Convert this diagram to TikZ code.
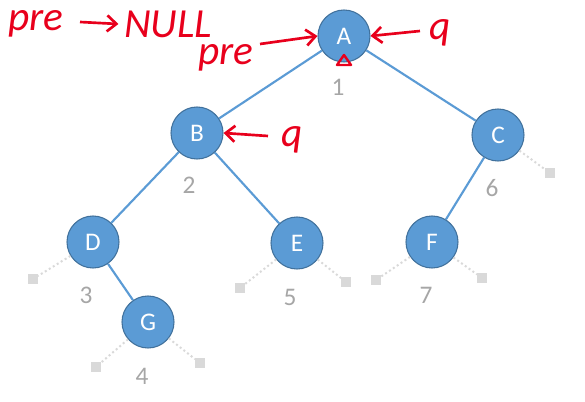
\documentclass[tikz,border=0pt]{standalone}
\usepackage{fontspec}
\setmainfont{Carlito}
\usetikzlibrary{arrows.meta}
\definecolor{nodeblue}{HTML}{5B9BD5}
\definecolor{nodeedge}{HTML}{41719C}
\definecolor{numgray}{HTML}{A6A6A6}
\definecolor{nullgray}{HTML}{D9D9D9}
\definecolor{ink}{HTML}{E8001C}
\tikzset{
  tnode/.style={circle, fill=nodeblue, draw=nodeedge, line width=0.8pt, minimum size=39pt, inner sep=0pt, text=white, font=\fontsize{19}{19}\selectfont},
  num/.style={text=numgray, font=\fontsize{19}{19}\selectfont, inner sep=0pt},
  nullsq/.style={rectangle, fill=nullgray, minimum size=7pt, inner sep=0pt},
  tedge/.style={draw=nodeblue, line width=1.6pt},
  nedge/.style={draw=nullgray, line width=1.5pt, dotted},
  hand/.style={text=ink, font=\itshape\fontsize{31}{31}\selectfont, inner sep=0pt},
  handarrow/.style={draw=ink, line width=2pt, -{Straight Barb[length=7pt,width=12pt]}}
}
\begin{document}
\begin{tikzpicture}[x=0.75pt,y=-0.75pt]
\useasboundingbox (0,0) rectangle (585,402);
% tree nodes
\node[tnode] (A) at (344,36) {A};
\node[tnode] (B) at (197,133) {B};
\node[tnode] (C) at (498,135) {C};
\node[tnode] (D) at (93,242) {D};
\node[tnode] (E) at (297,243) {E};
\node[tnode] (F) at (432,242) {F};
\node[tnode] (G) at (148,322) {G};
% null squares
\node[nullsq] (Dl) at (33,279) {};
\node[nullsq] (Gl) at (96,367) {};
\node[nullsq] (Gr) at (200,363) {};
\node[nullsq] (El) at (240,288) {};
\node[nullsq] (Er) at (346,282) {};
\node[nullsq] (Fl) at (376,280) {};
\node[nullsq] (Fr) at (482,278) {};
\node[nullsq] (Cr) at (550,173) {};
% edges
\draw[tedge] (A) -- (B);
\draw[tedge] (A) -- (C);
\draw[tedge] (B) -- (D);
\draw[tedge] (B) -- (E);
\draw[tedge] (C) -- (F);
\draw[tedge] (D) -- (G);
\draw[nedge] (D) -- (Dl);
\draw[nedge] (G) -- (Gl);
\draw[nedge] (G) -- (Gr);
\draw[nedge] (E) -- (El);
\draw[nedge] (E) -- (Er);
\draw[nedge] (F) -- (Fl);
\draw[nedge] (F) -- (Fr);
\draw[nedge] (C) -- (Cr);
% numbers
\node[num] (n1) at (338,87) {1};
\node[num] (n2) at (189,185) {2};
\node[num] (n6) at (492,188) {6};
\node[num] (n3) at (86,295) {3};
\node[num] (n5) at (290,297) {5};
\node[num] (n7) at (426,295) {7};
\node[num] (n4) at (142,376) {4};
% handwritten annotations
\node[hand] (pre1) at (36,24) {pre};
\node[hand] (null) at (168,24) {NULL};
\coordinate (p1s) at (80,22);
\draw[handarrow] (p1s) -- ([xshift=-4pt]null.west);
\node[hand] (pre2) at (226,58) {pre};
\coordinate (pre2e) at (260,44);
\draw[handarrow] (pre2e) -- (A.west);
\node[hand] (qa) at (440,33) {q};
\coordinate (qas) at (420,31);
\draw[handarrow] (qas) -- (A.east);
\node[hand] (qb) at (292,140) {q};
\coordinate (qbs) at (268,136);
\draw[handarrow] (qbs) -- (B.east);
\coordinate (t1) at (337,65);
\coordinate (t2) at (344,55);
\coordinate (t3) at (351,65);
\draw[draw=ink, line width=1.8pt, line join=round] (t1) -- (t2) -- (t3) -- cycle;
\end{tikzpicture}
\end{document}
